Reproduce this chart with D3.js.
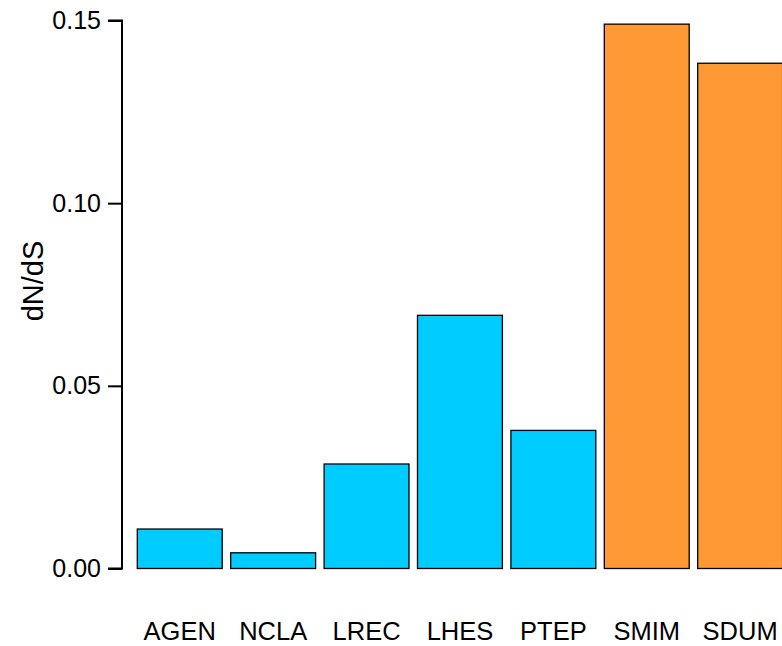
<!DOCTYPE html>
<html>
<head>
<meta charset="utf-8">
<script src="https://cdn.jsdelivr.net/npm/d3@7/dist/d3.min.js"></script>
<style>
  html, body { margin: 0; padding: 0; background: #fff; }
  svg { display: block; }
  text { font-family: "Liberation Sans", Arial, Helvetica, sans-serif; fill: #000; }
</style>
</head>
<body>
<svg id="chart" width="782" height="646"></svg>
<script>
const categories = ["AGEN", "NCLA", "LREC", "LHES", "PTEP", "SMIM", "SDUM"];
const values = [0.0108, 0.0043, 0.0286, 0.0693, 0.0378, 0.1490, 0.1383];
const groups = ["a", "a", "a", "a", "a", "b", "b"];
const yTicks = [0.00, 0.05, 0.10, 0.15];
const colors = { a: "#00CCFF", b: "#FF9933" };

const svg = d3.select("#chart");
const x = d3.scaleBand()
  .domain(categories)
  .range([137.3, 782.6])
  .paddingInner(1 / 11)
  .paddingOuter(0);
const y = d3.scaleLinear().domain([0, 0.15]).range([568.5, 20.5]);

svg.append("g")
  .selectAll("rect")
  .data(categories)
  .join("rect")
  .attr("x", d => x(d))
  .attr("y", (d, i) => y(values[i]))
  .attr("width", x.bandwidth())
  .attr("height", (d, i) => y(0) - y(values[i]))
  .attr("fill", (d, i) => colors[groups[i]])
  .attr("stroke", "#000")
  .attr("stroke-width", 1.3);

const yAxis = d3.axisLeft(y)
  .tickValues(yTicks)
  .tickFormat(d3.format(".2f"))
  .tickSize(14)
  .tickPadding(7);
const gy = svg.append("g").attr("transform", "translate(122,0)").call(yAxis);
gy.select(".domain").attr("stroke", "#000").attr("stroke-width", 2)
  .attr("d", `M-14,${y(0.15)}H0V${y(0)}H-14`);
gy.selectAll(".tick line").attr("stroke", "#000").attr("stroke-width", 2);
gy.selectAll(".tick text")
  .style("font-family", '"Liberation Sans", Arial, sans-serif')
  .style("font-size", "25px").attr("fill", "#000");

const xAxis = d3.axisBottom(x).tickSize(0).tickPadding(0);
const gx = svg.append("g").attr("transform", "translate(0,639.5)").call(xAxis);
gx.select(".domain").remove();
gx.selectAll(".tick text")
  .attr("y", 0).attr("dy", 0)
  .style("font-family", '"Liberation Sans", Arial, sans-serif')
  .style("font-size", "25.5px").attr("fill", "#000");

svg.append("text")
  .attr("transform", `translate(43,281) rotate(-90)`)
  .attr("text-anchor", "middle")
  .style("font-size", "29px")
  .text("dN/dS");
</script>
</body>
</html>
